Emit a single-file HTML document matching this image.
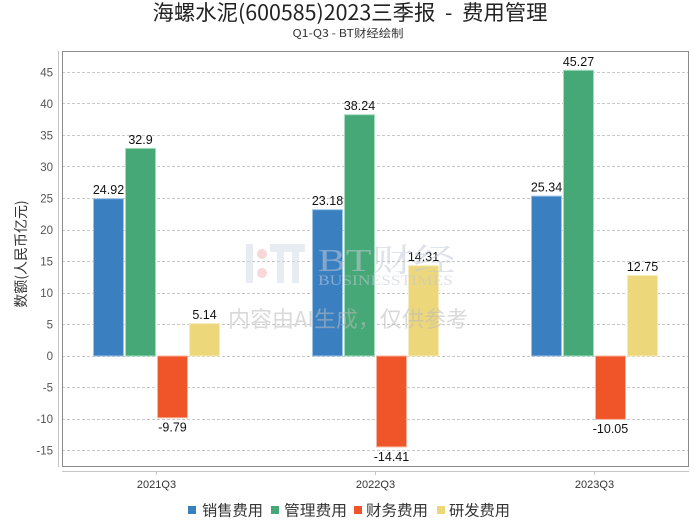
<!DOCTYPE html>
<html>
<head>
<meta charset="utf-8">
<style>
  html, body { margin: 0; padding: 0; background: #fff; }
  svg { display: block; }
</style>
</head>
<body>
<svg width="700" height="524" viewBox="0 0 700 524" xmlns="http://www.w3.org/2000/svg">
  <rect x="0" y="0" width="700" height="524" fill="#fff"/>

  <!-- Title -->
  <text x="350" y="20" text-anchor="middle" font-family="'WenQuanYi Zen Hei','Noto Sans CJK SC',sans-serif" font-size="21" fill="#222" textLength="395" lengthAdjust="spacingAndGlyphs">海螺水泥(600585)2023三季报&#160;&#160;-&#160;&#160;费用管理</text>
  <text x="348" y="37" text-anchor="middle" font-family="'WenQuanYi Zen Hei','Noto Sans CJK SC',sans-serif" font-size="11" fill="#333" textLength="111" lengthAdjust="spacingAndGlyphs">Q1-Q3 - BT财经绘制</text>

  <!-- gridlines -->
  <g stroke="#c8c8c8" stroke-width="1" stroke-dasharray="3,2">
    <line x1="62" x2="688" y1="72.5" y2="72.5"/>
    <line x1="62" x2="688" y1="103.5" y2="103.5"/>
    <line x1="62" x2="688" y1="135.5" y2="135.5"/>
    <line x1="62" x2="688" y1="166.5" y2="166.5"/>
    <line x1="62" x2="688" y1="198.5" y2="198.5"/>
    <line x1="62" x2="688" y1="230.5" y2="230.5"/>
    <line x1="62" x2="688" y1="261.5" y2="261.5"/>
    <line x1="62" x2="688" y1="293.5" y2="293.5"/>
    <line x1="62" x2="688" y1="324.5" y2="324.5"/>
    <line x1="62" x2="688" y1="356.5" y2="356.5"/>
    <line x1="62" x2="688" y1="387.5" y2="387.5"/>
    <line x1="62" x2="688" y1="419.5" y2="419.5"/>
    <line x1="62" x2="688" y1="450.5" y2="450.5"/>
  </g>

  <!-- Y tick labels -->
  <g font-family="'Liberation Sans',sans-serif" font-size="11.5" fill="#555" text-anchor="end">
    <text x="53" y="76.5">45</text>
    <text x="53" y="108">40</text>
    <text x="53" y="139.5">35</text>
    <text x="53" y="171">30</text>
    <text x="53" y="202.5">25</text>
    <text x="53" y="234">20</text>
    <text x="53" y="265.5">15</text>
    <text x="53" y="297">10</text>
    <text x="53" y="328.5">5</text>
    <text x="53" y="360">0</text>
    <text x="53" y="391.5">-5</text>
    <text x="53" y="423">-10</text>
    <text x="53" y="454.5">-15</text>
  </g>

  <!-- Y axis title -->
  <text transform="translate(26,254) rotate(-90)" text-anchor="middle" font-family="'Noto Sans CJK SC','WenQuanYi Zen Hei',sans-serif" font-size="14" fill="#333">数额(人民币亿元)</text>

  <!-- Bars -->
  <g stroke-width="1">
    <rect x="93.5" y="198.7" width="30" height="157.3" fill="#3a80c0" stroke="#9cc3e6"/>
    <rect x="125.5" y="148.4" width="30" height="207.6" fill="#46a877" stroke="#a5dcc0"/>
    <rect x="157.5" y="356" width="30" height="61.8" fill="#f0552a" stroke="#f8b59c"/>
    <rect x="189.5" y="323.6" width="30" height="32.4" fill="#ecd77a" stroke="#f6ebbd"/>
    <rect x="312.5" y="209.7" width="30" height="146.3" fill="#3a80c0" stroke="#9cc3e6"/>
    <rect x="344.5" y="114.7" width="30" height="241.3" fill="#46a877" stroke="#a5dcc0"/>
    <rect x="376.5" y="356" width="30" height="90.9" fill="#f0552a" stroke="#f8b59c"/>
    <rect x="408.5" y="265.7" width="30" height="90.3" fill="#ecd77a" stroke="#f6ebbd"/>
    <rect x="531.5" y="196.1" width="30" height="159.9" fill="#3a80c0" stroke="#9cc3e6"/>
    <rect x="563.5" y="70.3" width="30" height="285.7" fill="#46a877" stroke="#a5dcc0"/>
    <rect x="595.5" y="356" width="30" height="63.4" fill="#f0552a" stroke="#f8b59c"/>
    <rect x="627.5" y="275.5" width="30" height="80.5" fill="#ecd77a" stroke="#f6ebbd"/>
  </g>

  <!-- Data labels -->
  <g font-family="'Liberation Sans',sans-serif" font-size="12.5" fill="#111" text-anchor="middle">
    <text x="108.5" y="194">24.92</text>
    <text x="140.5" y="144">32.9</text>
    <text x="172.5" y="431.5">-9.79</text>
    <text x="204.5" y="319">5.14</text>

    <text x="327.5" y="205">23.18</text>
    <text x="359.5" y="110">38.24</text>
    <text x="391.5" y="461">-14.41</text>
    <text x="423.5" y="261">14.31</text>

    <text x="546.5" y="191.5">25.34</text>
    <text x="578.5" y="66">45.27</text>
    <text x="610.5" y="433">-10.05</text>
    <text x="642.5" y="271">12.75</text>
  </g>

  <!-- Watermark -->
  <g opacity="0.55">
    <rect x="246" y="244" width="7" height="39" fill="#d4dbe8"/>
    <circle cx="262" cy="254" r="5" fill="#f2b8b8"/>
    <circle cx="262" cy="273" r="5" fill="#f2b8b8"/>
    <rect x="270" y="244" width="35" height="8" fill="#d4dbe8"/>
    <rect x="277" y="252" width="7" height="31" fill="#d4dbe8"/>
    <rect x="292" y="252" width="7" height="31" fill="#d4dbe8"/>
    <text x="318" y="271" font-family="'Liberation Serif','Noto Serif CJK SC',serif" font-size="32" fill="#c2cad8" textLength="137" lengthAdjust="spacingAndGlyphs">BT财经</text>
    <text x="318" y="285" font-family="'Liberation Serif',serif" font-size="15" fill="#c2cad8" textLength="135" lengthAdjust="spacingAndGlyphs">BUSINESSTIMES</text>
  </g>
  <text x="228" y="327" font-family="'Noto Sans CJK SC','WenQuanYi Zen Hei',sans-serif" font-size="22" fill="#bbbbbb" opacity="0.55" textLength="240" lengthAdjust="spacingAndGlyphs">内容由AI生成，仅供参考</text>

  <!-- Frame -->
  <rect x="62.5" y="51.5" width="626" height="415" fill="none" stroke="#8a8a8a" stroke-width="1"/>
  <!-- Axis lines -->
  <line x1="58.5" y1="51" x2="58.5" y2="467" stroke="#c4c4c4" stroke-width="1"/>
  <line x1="62" y1="471.5" x2="689" y2="471.5" stroke="#c4c4c4" stroke-width="1"/>
  <g stroke="#c4c4c4" stroke-width="1">
    <line x1="156.5" y1="471" x2="156.5" y2="475"/>
    <line x1="375.5" y1="471" x2="375.5" y2="475"/>
    <line x1="594.5" y1="471" x2="594.5" y2="475"/>
  </g>

  <!-- X labels -->
  <g font-family="'Liberation Sans',sans-serif" font-size="11" fill="#333" text-anchor="middle">
    <text x="156.5" y="488">2021Q3</text>
    <text x="375.5" y="488">2022Q3</text>
    <text x="594.5" y="488">2023Q3</text>
  </g>

  <!-- Legend -->
  <g font-family="'Noto Sans CJK SC','WenQuanYi Zen Hei',sans-serif" font-size="15" fill="#333">
    <rect x="188" y="506" width="8" height="8" fill="#3a80c0"/>
    <text x="202" y="515.5" textLength="61" lengthAdjust="spacingAndGlyphs">销售费用</text>
    <rect x="271" y="506" width="8" height="8" fill="#46a877"/>
    <text x="284" y="515.5" textLength="63" lengthAdjust="spacingAndGlyphs">管理费用</text>
    <rect x="354" y="506" width="8" height="8" fill="#f0552a"/>
    <text x="366" y="515.5" textLength="62" lengthAdjust="spacingAndGlyphs">财务费用</text>
    <rect x="437" y="506" width="8" height="8" fill="#ecd77a"/>
    <text x="449" y="515.5" textLength="61" lengthAdjust="spacingAndGlyphs">研发费用</text>
  </g>
</svg>
</body>
</html>
